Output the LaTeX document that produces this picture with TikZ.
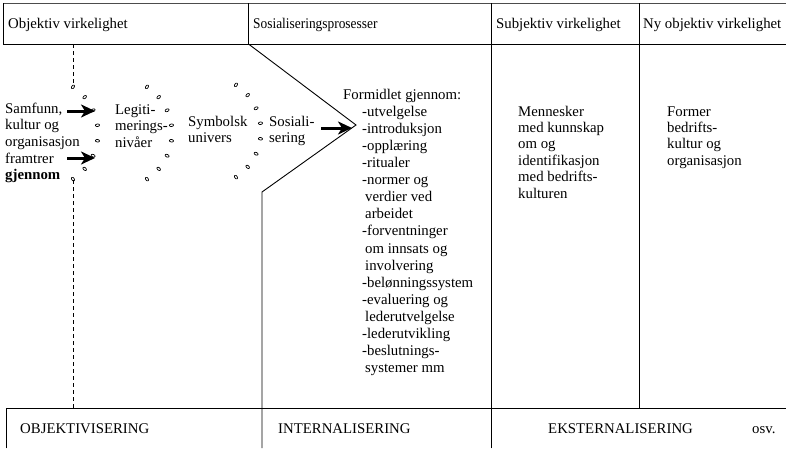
\documentclass[tikz,border=0pt]{standalone}
\usepackage{fontspec}
\setmainfont{Liberation Serif}
\usetikzlibrary{arrows.meta}

\begin{document}
\begin{tikzpicture}[x=1pt,y=-1pt,
  frame/.style={line width=0.9pt, line cap=rect},
  guide/.style={line width=0.8pt, dash pattern=on 4pt off 3pt},
  tick/.style={line width=0.7pt},
  push/.style={line width=3pt, -{Stealth[length=14pt,width=13pt,inset=4pt]}},
  lbl/.style={inner sep=0pt, font=\fontsize{14.8}{16.7}\selectfont, align=left},
  lblwide/.style={lbl, font=\fontsize{14.8}{17.1}\selectfont},
  lbltight/.style={lbl, font=\fontsize{14.8}{16.4}\selectfont},
]
\useasboundingbox (0,0) rectangle (786,448);
\clip (0,0) rectangle (786,448);

% header row
\draw[frame, gray!60!black] (3,3) -- (795,3);
\draw[frame] (3,44) -- (3,3);
\draw[frame] (3,44) -- (795,44);
\foreach \x in {248.5,491.5,639} \draw[frame] (\x,3) -- (\x,44);

\node[lbl, anchor=base west] (h1) at (8,28) {Objektiv virkelighet};
\node[lbl, anchor=base west] (h2) at (253,28) {\scalebox{0.905}[1]{Sosialiseringsprosesser}};
\node[lbl, anchor=base west] (h3) at (496,28) {Subjektiv virkelighet};
\node[lbl, anchor=base west] (h4) at (643,28) {Ny objektiv virkelighet};

% bottom row
\draw[frame] (6,448) -- (6,408) -- (795,408);
\node[lbl, anchor=base west] (b1) at (20,433) {OBJEKTIVISERING};
\node[lbl, anchor=base west] (b2) at (278,433) {INTERNALISERING};
\node[lbl, anchor=base west] (b3) at (548,433) {EKSTERNALISERING};
\node[lbl, anchor=base west] (b4) at (752,433) {osv.};

% column boundaries
\coordinate (p1) at (248.5,44);
\coordinate (tip) at (356,125);
\coordinate (p3) at (262,192);
\coordinate (p4) at (262,448);
\draw[frame, line cap=butt] (p1) -- (tip) -- (p3) -- (p4);
\draw[frame] (491,44) -- (491,448);
\draw[frame] (639,44) -- (639,408);

% dashed divider broken by the first ring
\coordinate (d1) at (73,44);
\coordinate (d2) at (73,86);
\coordinate (d3) at (73,180);
\coordinate (d4) at (73,408);
\draw[guide] (d1) -- (d2);
\draw[guide] (d3) -- (d4);

% rings of small marks
\foreach \c/\r/\cy in {43/55/133, 117/55/133, 206/55/131}
  \foreach \a in {57,40.7,24.4,8.1,-8.1,-24.4,-40.7,-57}
    \draw[tick, shift={(\c,\cy)}, rotate=\a] (\r,0) ellipse [x radius=2.1, y radius=1.3];

% texts
\node[lbl, anchor=north west] (samf) at (5,101.3)
  {\strut Samfunn,\\kultur og\\organisasjon\\framtrer\\\textbf{gjennom}};
\node[lbl, anchor=north west] (legit) at (115,102.3)
  {\strut Legiti-\\merings-\\nivåer};
\node[lbl, anchor=north west] (symb) at (188,114.3)
  {\strut Symbolsk\\univers};
\node[lbl, anchor=north west] (sos) at (269,114.3)
  {\strut Sosiali-\\sering};
\node[lblwide, anchor=base west] (form) at (343,99) {Formidlet gjennom:};
\node[lblwide, anchor=north west] (list) at (362,104.1)
  {\strut -utvelgelse\\-introduksjon\\-opplæring\\-ritualer\\-normer og\\
   \hspace*{3pt}verdier ved\\\hspace*{3pt}arbeidet\\-forventninger\\
   \hspace*{3pt}om innsats og\\\hspace*{3pt}involvering\\-belønningssystem\\
   -evaluering og\\\hspace*{3pt}lederutvelgelse\\-lederutvikling\\
   -beslutnings-\\\hspace*{3pt}systemer mm};
\node[lbltight, anchor=north west] (menn) at (518,104.5)
  {\strut Mennesker\\med kunnskap\\om og\\identifikasjon\\med bedrifts-\\kulturen};
\node[lbltight, anchor=north west] (former) at (667,104.5)
  {\strut Former\\bedrifts-\\kultur og\\organisasjon};

% arrows
\coordinate (a1s) at (67,111);
\coordinate (a1e) at (95,111);
\coordinate (a2s) at (67,158);
\coordinate (a2e) at (95,158);
\coordinate (a3s) at (321,128);
\coordinate (a3e) at (352,128);
\draw[push] (a1s) -- (a1e);
\draw[push] (a2s) -- (a2e);
\draw[push] (a3s) -- (a3e);
\end{tikzpicture}
\end{document}
